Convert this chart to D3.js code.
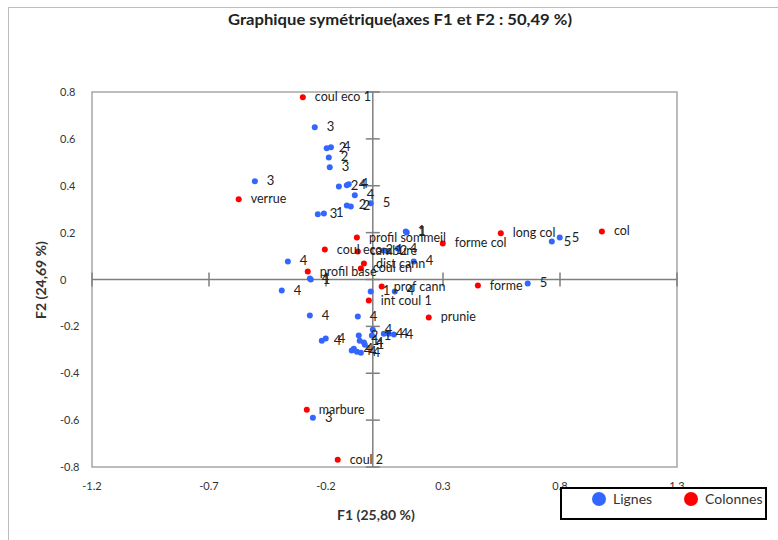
<!DOCTYPE html>
<html>
<head>
<meta charset="utf-8">
<script src="https://cdn.jsdelivr.net/npm/d3@7"></script>
<style>
body { margin: 0; background: #fff; }
text { font-family: Lato, "Open Sans", sans-serif; }
</style>
</head>
<body>
<script>

// colonnes (red points)
var colLabels = ["coul eco 1", "verrue", "profil sommeil", "forme col", "long col", "col",
  "coul eco 2", "cambure", "dist cann", "coul cn", "profil base", "prof cann",
  "int coul 1", "forme", "prunie", "marbure", "coul 2"];
var colX = [-0.299, -0.573, -0.068, 0.299, 0.547, 0.979, -0.205, -0.064, -0.038, -0.051,
  -0.278, 0.038, -0.017, 0.449, 0.239, -0.282, -0.150];
var colY = [0.778, 0.342, 0.179, 0.154, 0.197, 0.205, 0.128, 0.120, 0.068, 0.047,
  0.034, -0.030, -0.090, -0.026, -0.162, -0.556, -0.769];

// lignes (blue points)
var rowLabels = ["3", "3", "2", "4", "2", "3", "2", "4", "4", "4", "2", "2", "5", "3", "1",
  "1", "1", "1", "2", "4", "4", "4", "4", "1", "4", "1", "4", "4", "4", "4",
  "4", "4", "1", "4", "4", "4", "2", "1", "4", "1", "4", "4", "4", "4", "3",
  "5", "5", "5"];
var rowX = [-0.504, -0.248, -0.197, -0.179, -0.188, -0.184, -0.145, -0.111, -0.103, -0.077,
  -0.111, -0.094, -0.009, -0.235, -0.209, 0.141, 0.145, 0.047, 0.064, 0.107,
  0.175, -0.363, -0.269, -0.265, -0.389, -0.009, 0.094, -0.269, -0.064, 0.000,
  -0.218, -0.201, -0.004, 0.047, 0.068, 0.090, -0.060, -0.056, -0.038, -0.034,
  -0.081, -0.090, -0.068, -0.051, -0.256, 0.662, 0.765, 0.799];
var rowY = [0.419, 0.650, 0.560, 0.564, 0.521, 0.479, 0.397, 0.402, 0.406, 0.359,
  0.316, 0.312, 0.325, 0.278, 0.282, 0.205, 0.201, 0.124, 0.120, 0.132,
  0.077, 0.077, 0.004, 0.000, -0.047, -0.051, -0.051, -0.154, -0.158, -0.214,
  -0.261, -0.252, -0.239, -0.231, -0.231, -0.235, -0.239, -0.261, -0.269, -0.278,
  -0.295, -0.303, -0.308, -0.312, -0.590, -0.017, 0.162, 0.179];

var xTicks = [-1.2, -0.7, -0.2, 0.3, 0.8, 1.3];
var yTicks = [-0.8, -0.6, -0.4, -0.2, 0, 0.2, 0.4, 0.6, 0.8];

var width = 778, height = 540,
plotLeft = 92, plotRight = 677, plotTop = 92, plotBottom = 467;

var x = d3.scaleLinear().domain([-1.2, 1.3]).range([plotLeft, plotRight]);
var y = d3.scaleLinear().domain([-0.8, 0.8]).range([plotBottom, plotTop]);

var svg = d3.select("body").append("svg")
 .attr("width", width)
 .attr("height", height);

// outer frame
svg.append("rect")
 .attr("x", 8.5).attr("y", 7.5)
 .attr("width", 800).attr("height", 600)
 .style("fill", "none")
 .style("stroke", "#bdbdbd");

svg.append("text")
 .attr("x", 400).attr("y", 25)
 .attr("text-anchor", "middle")
 .style("font-size", "15px")
 .style("font-weight", "bold")
 .style("fill", "#222")
 .attr("textLength", 344)
 .attr("lengthAdjust", "spacingAndGlyphs")
 .text("Graphique symétrique(axes F1 et F2 : 50,49 %)");

// plot border
svg.append("rect")
 .attr("x", plotLeft).attr("y", plotTop)
 .attr("width", plotRight - plotLeft).attr("height", plotBottom - plotTop)
 .style("fill", "none")
 .style("stroke", "#a6a6a6")
 .style("stroke-width", 1.5);

// center axes
var axisColor = "#7f7f7f";
svg.append("line")
 .attr("x1", plotLeft).attr("x2", plotRight)
 .attr("y1", y(0)).attr("y2", y(0))
 .style("stroke", axisColor).style("stroke-width", 1.5);
svg.append("line")
 .attr("x1", x(0)).attr("x2", x(0))
 .attr("y1", plotTop).attr("y2", plotBottom)
 .style("stroke", axisColor).style("stroke-width", 1.5);

svg.selectAll(".xtick")
 .data(xTicks)
.enter()
 .append("line")
 .attr("x1", function (d) { return x(d); })
 .attr("x2", function (d) { return x(d); })
 .attr("y1", y(0) - 7).attr("y2", y(0) + 7)
 .style("stroke", axisColor).style("stroke-width", 1.5);

svg.selectAll(".ytick")
 .data(yTicks)
.enter()
 .append("line")
 .attr("x1", x(0) - 7).attr("x2", x(0) + 7)
 .attr("y1", function (d) { return y(d); })
 .attr("y2", function (d) { return y(d); })
 .style("stroke", axisColor).style("stroke-width", 1.5);

svg.selectAll(".xlab")
 .data(xTicks)
.enter()
 .append("text")
 .attr("x", function (d) { return x(d); })
 .attr("y", 490)
 .attr("text-anchor", "middle")
 .style("font-size", "11px")
 .style("fill", "#333")
 .text(function (d) { return d; });

svg.selectAll(".ylab")
 .data(yTicks)
.enter()
 .append("text")
 .attr("x", 60)
 .attr("y", function (d) { return y(d) + 4; })
 .style("font-size", "11px")
 .style("fill", "#333")
 .text(function (d) { return d; });

svg.append("text")
 .attr("x", 376).attr("y", 520)
 .attr("text-anchor", "middle")
 .style("font-size", "14px")
 .style("font-weight", "bold")
 .style("fill", "#333")
 .text("F1 (25,80 %)");

svg.append("text")
 .attr("transform", "translate(46,280) rotate(-90)")
 .attr("text-anchor", "middle")
 .style("font-size", "14px")
 .style("font-weight", "bold")
 .style("fill", "#333")
 .text("F2 (24,69 %)");

// points
var blue = "#3366ff", red = "#ff0000";

var rows = rowLabels.map(function (d, i) { return {label: d, x: rowX[i], y: rowY[i]}; });
var cols = colLabels.map(function (d, i) { return {label: d, x: colX[i], y: colY[i]}; });

function drawSeries(data, color) {
  svg.append("g").selectAll("circle")
   .data(data)
  .enter()
   .append("circle")
   .attr("cx", function (d) { return x(d.x); })
   .attr("cy", function (d) { return y(d.y); })
   .attr("r", 3)
   .style("fill", color);
}

drawSeries(rows, blue);
drawSeries(cols, red);

function drawLabels(data, size) {
  svg.append("g").selectAll("text")
   .data(data)
  .enter()
   .append("text")
   .attr("x", function (d) { return x(d.x) + 12; })
   .attr("y", function (d) { return y(d.y) + 4; })
   .style("font-size", size)
   .style("fill", "#222")
   .text(function (d) { return d.label; });
}

drawLabels(rows, "13px");
drawLabels(cols, "12.5px");

// legend
svg.append("rect")
 .attr("x", 561).attr("y", 488)
 .attr("width", 205).attr("height", 31)
 .style("fill", "#fff")
 .style("stroke", "#000")
 .style("stroke-width", 2);

svg.append("circle").attr("cx", 599).attr("cy", 499).attr("r", 7).style("fill", blue);
svg.append("text").attr("x", 613).attr("y", 504)
 .style("font-size", "14px").style("fill", "#333").text("Lignes");
svg.append("circle").attr("cx", 691).attr("cy", 499).attr("r", 7).style("fill", red);
svg.append("text").attr("x", 705).attr("y", 504)
 .style("font-size", "14px").style("fill", "#333").text("Colonnes");

</script>
</body>
</html>
